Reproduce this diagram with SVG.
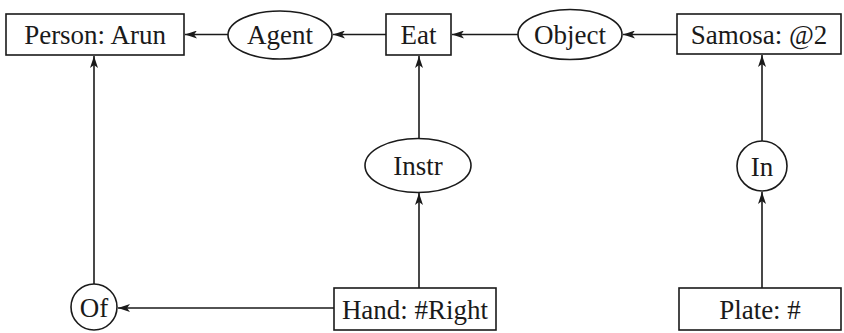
<svg xmlns="http://www.w3.org/2000/svg" width="844" height="333" viewBox="0 0 844 333">
<style>
.n{fill:#fff;stroke:#1a1a1a;stroke-width:1.6}
.t{font-family:"Liberation Serif","Times New Roman",serif;font-size:27px;fill:#1a1a1a;text-anchor:middle}
.c{stroke:#1a1a1a;stroke-width:1.6;fill:none;marker-end:url(#ah)}
</style>
<defs>
<marker id="ah" viewBox="0 0 12 8" refX="12" refY="4" markerWidth="12" markerHeight="8" markerUnits="userSpaceOnUse" orient="auto">
<path d="M0,0 L12,4 L0,8 L3,4 z" fill="#1a1a1a"/>
</marker>
</defs>
<rect width="844" height="333" fill="#fff"/>
<g id="connectors">
<line class="c" x1="228" y1="34.5" x2="185" y2="34.5"/>
<line class="c" x1="386" y1="34.5" x2="333" y2="34.5"/>
<line class="c" x1="518" y1="34.5" x2="452" y2="34.5"/>
<line class="c" x1="677" y1="34.5" x2="623" y2="34.5"/>
<line class="c" x1="94" y1="284" x2="94" y2="56"/>
<line class="c" x1="419" y1="288" x2="419" y2="193"/>
<line class="c" x1="419" y1="138" x2="419" y2="56"/>
<line class="c" x1="762" y1="288" x2="762" y2="192"/>
<line class="c" x1="762" y1="141" x2="762" y2="55"/>
<line class="c" x1="334" y1="308" x2="118" y2="308"/>
</g>
<g id="person"><rect class="n" x="6" y="14" width="178" height="41"/><text class="t" x="95" y="44">Person: Arun</text></g>
<g id="agent"><ellipse class="n" cx="280" cy="35" rx="52" ry="24"/><text class="t" x="280" y="44">Agent</text></g>
<g id="eat"><rect class="n" x="386" y="14" width="65" height="41"/><text class="t" x="418.5" y="44">Eat</text></g>
<g id="object"><ellipse class="n" cx="570" cy="34.5" rx="52" ry="25"/><text class="t" x="570" y="44">Object</text></g>
<g id="samosa"><rect class="n" x="677" y="14" width="164" height="40"/><text class="t" x="759" y="43.5">Samosa: @2</text></g>
<g id="instr"><ellipse class="n" cx="418" cy="165.5" rx="53" ry="27"/><text class="t" x="418" y="175">Instr</text></g>
<g id="in"><circle class="n" cx="762" cy="166" r="25"/><text class="t" x="762" y="175.5">In</text></g>
<g id="of"><circle class="n" cx="94" cy="307" r="23"/><text class="t" x="94" y="316.5">Of</text></g>
<g id="hand"><rect class="n" x="334" y="288" width="162" height="42"/><text class="t" x="415" y="318.5">Hand: #Right</text></g>
<g id="plate"><rect class="n" x="679" y="288" width="162" height="42"/><text class="t" x="760" y="318.5">Plate: #</text></g>
</svg>
